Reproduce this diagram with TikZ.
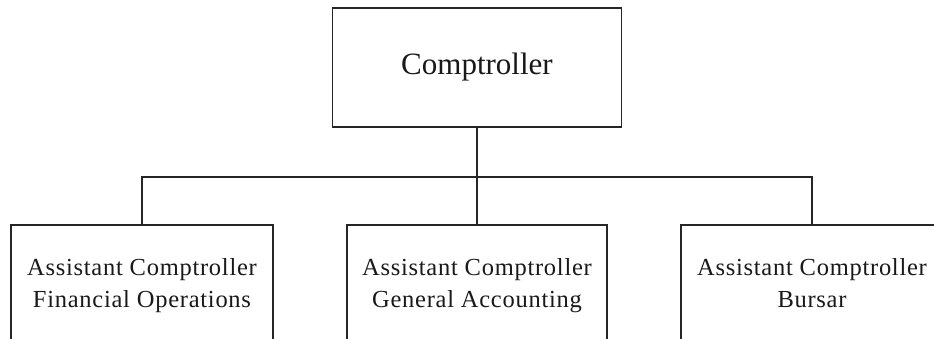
\documentclass[tikz,border=0pt]{standalone}
\usepackage{fontspec}
\setmainfont{Liberation Serif}
\newfontfamily\unitfont[LetterSpace=3]{Liberation Serif}
\begin{document}
\begin{tikzpicture}[x=1pt,y=1pt,
  orgbox/.style={draw=black!85, line width=1.6pt, fill=white, rectangle,
    inner sep=0pt, align=center, text=black!90},
  headbox/.style={orgbox, minimum width=289pt, minimum height=119pt,
    font=\fontsize{31}{36}\selectfont},
  unitbox/.style={orgbox, minimum width=262pt, minimum height=126pt,
    font=\unitfont\fontsize{24.5}{32}\selectfont},
  link/.style={draw=black!85, line width=1.6pt}]
  \useasboundingbox (0,0) rectangle (934,-339);
  \clip (0,0) rectangle (934,-339);
  \fill[white] (0,0) rectangle (934,-339);

  % head of the office
  \node[headbox] (head) at (477,-67.5) {Comptroller};

  % the three assistant comptrollers (their lower edges run off the page)
  \node[unitbox] (fin) at (142,-288) {Assistant Comptroller\\Financial Operations\strut};
  \node[unitbox, minimum width=260pt] (gen) at (477,-288) {Assistant Comptroller\\General Accounting\strut};
  \node[unitbox] (bur) at (812,-288) {Assistant Comptroller\\Bursar\strut};

  % reporting lines
  \coordinate (bar) at (477,-177);
  \draw[link] (head.south) -- (gen.north);
  \draw[link] (fin.north) -- (fin.north |- bar) -- (bur.north |- bar) -- (bur.north);
\end{tikzpicture}
\end{document}
